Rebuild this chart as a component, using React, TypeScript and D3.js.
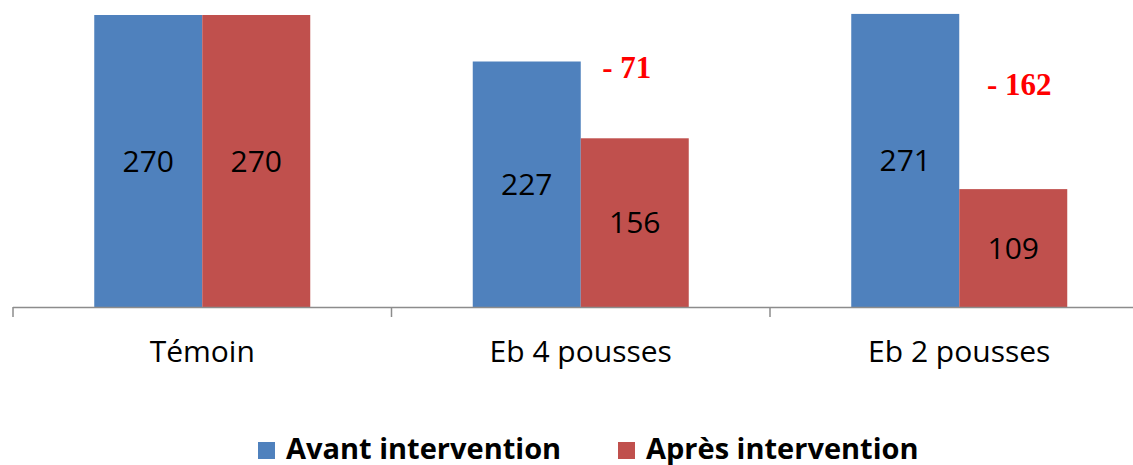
import React from "react";
import * as d3 from "d3";

const categories = ["Témoin", "Eb 4 pousses", "Eb 2 pousses"];
const seriesNames = ["Avant intervention", "Après intervention"];
const avant = [270, 227, 271];
const apres = [270, 156, 109];
const diffLabels = ["", "- 71", "- 162"];
const colors = ["#4F81BD", "#C0504D"];

const W = 1133;
const H = 465;

export default function App() {
  const baseline = 307;
  const x0 = d3.scaleBand<string>().domain(categories).range([13, 13 + 3 * 378.5]).padding(0);
  const bw = x0.bandwidth();
  const groupW = 216;
  const x1 = d3
    .scaleBand<string>()
    .domain(seriesNames)
    .range([(bw - groupW) / 2, (bw + groupW) / 2])
    .padding(0);
  const y = d3.scaleLinear().domain([0, 270]).range([baseline, 15]);
  const series = [avant, apres];
  const ticks = [0, 1, 2, 3].map((i) => 13 + i * bw);
  const sansFont = "'Open Sans', 'Liberation Sans', sans-serif";
  const annotOffsets = [
    { dx: 0, dy: 0 },
    { dx: -8, dy: -60 },
    { dx: 6, dy: -94 },
  ];

  return (
    <svg
      width={W}
      height={H}
      style={{ position: "absolute", left: 0, top: 0, display: "block", background: "#fff" }}
    >
      {categories.map((c, ci) => (
        <g key={c} transform={`translate(${x0(c)},0)`}>
          {series.map((vals, si) => {
            const bx = x1(seriesNames[si])!;
            const v = vals[ci];
            return (
              <g key={si}>
                <rect
                  x={bx}
                  y={y(v)}
                  width={x1.bandwidth()}
                  height={baseline - y(v)}
                  fill={colors[si]}
                />
                <text
                  x={bx + x1.bandwidth() / 2}
                  y={(y(v) + baseline) / 2}
                  dy="0.36em"
                  textAnchor="middle"
                  fontFamily={sansFont}
                  fontSize={30}
                  fill="#000"
                >
                  {v}
                </text>
              </g>
            );
          })}
          {diffLabels[ci] && (
            <text
              x={x1(seriesNames[1])! + x1.bandwidth() / 2 + annotOffsets[ci].dx}
              y={y(apres[ci]) + annotOffsets[ci].dy}
              textAnchor="middle"
              fontFamily="'Liberation Serif', 'Times New Roman', serif"
              fontWeight="bold"
              fontSize={31}
              fill="#FF0000"
            >
              {diffLabels[ci]}
            </text>
          )}
          <text
            x={bw / 2}
            y={362}
            textAnchor="middle"
            fontFamily={sansFont}
            fontSize={30}
            fill="#000"
          >
            {c}
          </text>
        </g>
      ))}
      <line x1={13} x2={W} y1={baseline + 0.5} y2={baseline + 0.5} stroke="#8C8C8C" strokeWidth={1.5} />
      {ticks.map((t, i) => (
        <line key={i} x1={t} x2={t} y1={baseline} y2={baseline + 10} stroke="#8C8C8C" strokeWidth={1.5} />
      ))}
      {seriesNames.map((s, i) => {
        const lx = [258, 618][i];
        return (
          <g key={s}>
            <rect x={lx} y={442} width={17} height={17} fill={colors[i]} />
            <text
              x={lx + 28}
              y={459}
              fontFamily={sansFont}
              fontWeight="bold"
              fontSize={29}
              fill="#000"
            >
              {s}
            </text>
          </g>
        );
      })}
    </svg>
  );
}
